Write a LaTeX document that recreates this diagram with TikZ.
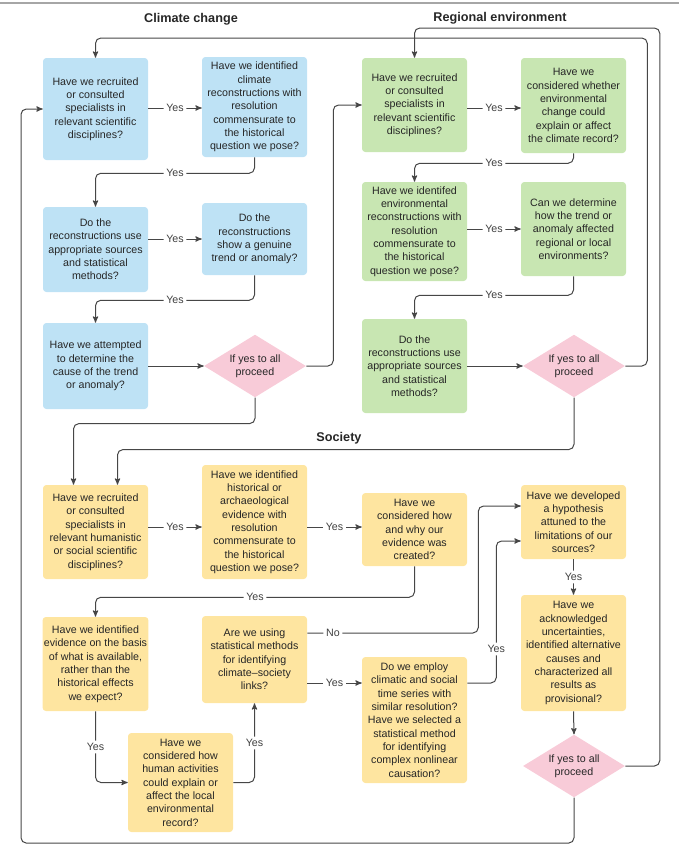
\documentclass[tikz,border=0pt]{standalone}
\usepackage{fontspec}
\setmainfont{Liberation Sans}
\usetikzlibrary{arrows,calc,positioning,shapes.geometric}

\definecolor{climblue}{RGB}{190,226,245}
\definecolor{envgreen}{RGB}{200,230,178}
\definecolor{socyellow}{RGB}{254,229,160}
\definecolor{gopink}{RGB}{248,203,216}
\definecolor{linegray}{RGB}{70,70,70}

\begin{document}
\begin{tikzpicture}[x=0.75pt,y=-0.75pt]

\useasboundingbox (0,0) rectangle (679,850);
\draw[gray!70,line width=1.5pt] (0,3) -- (679,3);

% set styles here
\tikzstyle{box}=[rectangle,rounded corners=2.5pt,minimum width=78.75pt,inner sep=1pt,
                 align=center,text=black!85,font=\fontsize{8}{10}\selectfont]
\tikzstyle{check}=[diamond,aspect=1.6,fill=gopink,minimum width=76.5pt,minimum height=47pt,
                   inner sep=0pt,align=center,text=black!85,font=\fontsize{8}{10}\selectfont]
\tikzstyle{answer}=[fill=white,inner sep=2pt,text=black!75,font=\fontsize{8}{10}\selectfont]
\tikzstyle{link}=[->,>=stealth',linegray,line width=0.75pt,rounded corners=4pt]
\tikzstyle{head}=[text=black!85,font=\bfseries\fontsize{9.5}{11}\selectfont]

\node (climhead) at (191, 19) [head] {Climate change};
\node (envhead) at (500, 18) [head] {Regional environment};
\node (sochead) at (339, 438) [head] {Society};

\coordinate (toprow) at (0, 108);
\coordinate (srow) at (0, 527);
\coordinate (norow) at (0, 633);
\coordinate (yesrow) at (0, 683);

% climate change
\node (c1) at (95.5, 109) [box,fill=climblue,minimum height=76.5pt]
  {Have we recruited\\or consulted\\specialists in\\relevant scientific\\disciplines?};
\node (c2) at (254.5, 107) [box,fill=climblue,minimum height=75pt]
  {Have we identified\\climate\\reconstructions with\\resolution\\commensurate to\\the historical\\question we pose?};
\node (c3) at (95.5, 249.5) [box,fill=climblue,minimum height=63.75pt]
  {Do the\\reconstructions use\\appropriate sources\\and statistical\\methods?};
\node (c4) at (254.5, 239) [box,fill=climblue,minimum height=54pt]
  {Do the\\reconstructions\\show a genuine\\trend or anomaly?};
\node (c5) at (95.5, 366) [box,fill=climblue,minimum height=64.5pt]
  {Have we attempted\\to determine the\\cause of the trend\\or anomaly?};
\node (d1) at (255, 366) [check] {If yes to all\\proceed};

% regional environment
\node (e1) at (414.5, 105) [box,fill=envgreen,minimum height=70.5pt]
  {Have we recruited\\or consulted\\specialists in\\relevant scientific\\disciplines?};
\node (e2) at (573.5, 105.5) [box,fill=envgreen,minimum height=71.25pt]
  {Have we\\considered whether\\environmental\\change could\\explain or affect\\the climate record?};
\node (e3) at (414.5, 231.5) [box,fill=envgreen,minimum height=74.25pt]
  {Have we identifed\\environmental\\reconstructions with\\resolution\\commensurate to\\the historical\\question we pose?};
\node (e4) at (573.5, 229) [box,fill=envgreen,minimum height=70.5pt]
  {Can we determine\\how the trend or\\anomaly affected\\regional or local\\environments?};
\node (e5) at (414.5, 366) [box,fill=envgreen,minimum height=70.5pt]
  {Do the\\reconstructions use\\appropriate sources\\and statistical\\methods?};
\node (d2) at (574, 366) [check] {If yes to all\\proceed};

% society
\node (s1) at (95.5, 532) [box,fill=socyellow,minimum height=70.5pt]
  {Have we recruited\\or consulted\\specialists in\\relevant humanistic\\or social scientific\\disciplines?};
\node (s2) at (254.5, 522) [box,fill=socyellow,minimum height=85.5pt]
  {Have we identified\\historical or\\archaeological\\evidence with\\resolution\\commensurate to\\the historical\\question we pose?};
\node (s3) at (414.5, 529.5) [box,fill=socyellow,minimum height=54.75pt]
  {Have we\\considered how\\and why our\\evidence was\\created?};
\node (s4) at (95.5, 664) [box,fill=socyellow,minimum height=70.5pt]
  {Have we identified\\evidence on the basis\\of what is available,\\rather than the\\historical effects\\we expect?};
\node (s5) at (180.5, 782.5) [box,fill=socyellow,minimum height=74.25pt]
  {Have we\\considered how\\human activities\\could explain or\\affect the local\\environmental\\record?};
\node (s6) at (254.5, 659.5) [box,fill=socyellow,minimum height=65.25pt]
  {Are we using\\statistical methods\\for identifying\\climate--society\\links?};
\node (s7) at (414.5, 720) [box,fill=socyellow,minimum height=94.5pt]
  {Do we employ\\climatic and social\\time series with\\similar resolution?\\Have we selected a\\statistical method\\for identifying\\complex nonlinear\\causation?};
\node (s8) at (573.5, 522) [box,fill=socyellow,minimum height=55.5pt]
  {Have we developed\\a hypothesis\\attuned to the\\limitations of our\\sources?};
\node (s9) at (573.5, 653) [box,fill=socyellow,minimum height=87pt]
  {Have we\\acknowledged\\uncertainties,\\identified alternative\\causes and\\characterized all\\results as\\provisional?};
\node (d3) at (574, 766) [check] {If yes to all\\proceed};

% climate links
\draw[link] (c1.east |- toprow) -- node[answer]{Yes} (c2.west |- toprow);
\draw[link] (c2.south) -- ++(0,16) -| node[answer,pos=0.25]{Yes} (c3.north);
\draw[link] (c4.west -| c3.east) -- node[answer]{Yes} (c4.west);
\draw[link] (c4.south) -- ++(0,25) -| node[answer,pos=0.25]{Yes} (c5.north);
\draw[link] (c5.east) -- (d1.west);
\draw[link] (d1.east) -- ++(27,0) |- (e1.west);
\draw[link] (d1.south) -- ++(0,26) -| ($(s1.north)+(-22,0)$);

% environment links
\draw[link] (e1.east |- toprow) -- node[answer]{Yes} (e2.west |- toprow);
\draw[link] (e2.south) -- ++(0,10) -| node[answer,pos=0.25]{Yes} (e3.north);
\draw[link] (e4.west -| e3.east) -- node[answer]{Yes} (e4.west);
\draw[link] (e4.south) -- ++(0,19) -| node[answer,pos=0.25]{Yes} (e5.north);
\draw[link] (e5.east) -- (d2.west);
\draw[link] (d2.east) -- ++(22,0) -- ++(0,-328) -| (c1.north);
\draw[link] (d2.south) -- ++(0,52) -| ($(s1.north)+(22,0)$);

% society links
\draw[link] (s1.east |- srow) -- node[answer]{Yes} (s2.west |- srow);
\draw[link] (s2.east |- srow) -- node[answer]{Yes} (s3.west |- srow);
\draw[link] (s3.south) -- ++(0,31) -| node[answer,pos=0.25]{Yes} (s4.north);
\draw[link] (s4.south) |- node[answer,pos=0.25]{Yes} (s5.west);
\draw[link] (s5.east) -| node[answer,pos=0.75]{Yes} (s6.south);
\draw[link] (s6.east |- norow) -- node[answer,pos=0.15]{No} ++(171,0)
            |- ($(s8.west)+(0,-16)$);
\draw[link] (s6.east |- yesrow) -- node[answer]{Yes} (s7.west |- yesrow);
\draw[link] (s7.east |- yesrow) -- ++(29,0) |- node[answer,pos=0.12]{Yes}
            ($(s8.west)+(0,19)$);
\draw[link] (s8.south) -- node[answer]{Yes} (s9.north);
\draw[link] (s9.south) -- (d3.north);
\draw[link] (d3.east) -- ++(34.5,0) -- ++(0,-738) -| (e1.north);
\draw[link] (d3.south) -- ++(0,45.5) -- ++(-553,0) |- (c1.west);

\end{tikzpicture}
\end{document}
